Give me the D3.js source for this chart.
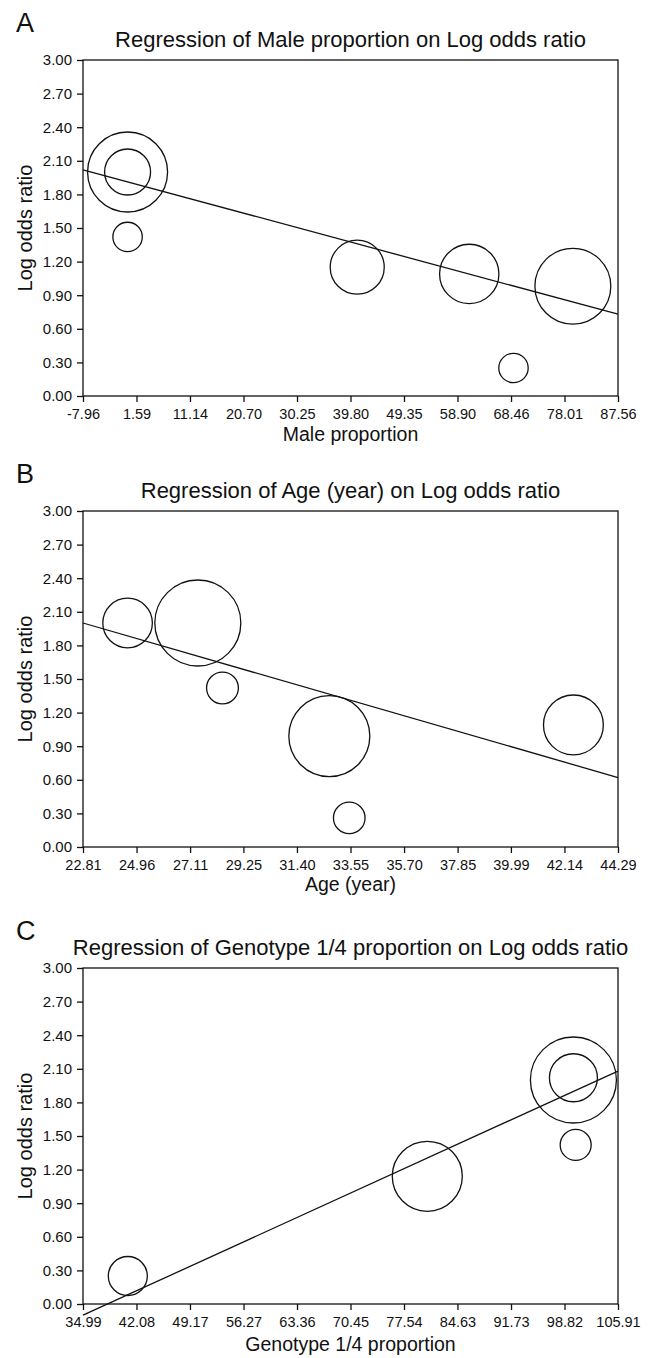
<!DOCTYPE html>
<html>
<head>
<meta charset="utf-8">
<script src="https://cdn.jsdelivr.net/npm/d3@7"></script>
<style>
  body { margin: 0; background: #fff; }
  text { font-family: "Liberation Sans", Arial, sans-serif; fill: #111; }
</style>
</head>
<body>
<div id="chart"></div>
<script>
// Shared y axis
var yTicks = [0, 0.3, 0.6, 0.9, 1.2, 1.5, 1.8, 2.1, 2.4, 2.7, 3.0];

// Panel A - male proportion
var maleX = [0, 0, 0, 41.0, 61.0, 68.9, 79.5];
var maleY = [2.00, 2.00, 1.42, 1.15, 1.09, 0.25, 0.98];
var maleW = [100, 33, 13.5, 45.6, 55, 13.5, 90];
var maleTicks = [-7.96, 1.59, 11.14, 20.70, 30.25, 39.80, 49.35, 58.90, 68.46, 78.01, 87.56];
var maleFit = [2.02, 0.73];

// Panel B - age
var ageX = [24.60, 27.42, 28.41, 32.70, 33.50, 42.50];
var ageY = [2.00, 2.00, 1.42, 0.99, 0.26, 1.09];
var ageW = [38.4, 115.6, 15.8, 102.5, 15.6, 56];
var ageTicks = [22.81, 24.96, 27.11, 29.25, 31.40, 33.55, 35.70, 37.85, 39.99, 42.14, 44.29];
var ageFit = [2.00, 0.62];

// Panel C - genotype 1/4 proportion
var genoX = [40.93, 80.63, 100.0, 100.0, 100.3];
var genoY = [0.25, 1.14, 2.00, 2.02, 1.42];
var genoW = [23.8, 76.6, 115.6, 36, 15];
var genoTicks = [34.99, 42.08, 49.17, 56.27, 63.36, 70.45, 77.54, 84.63, 91.73, 98.82, 105.91];
var genoFit = [-0.10, 2.08];

var panels = [
  {letter: "A", title: "Regression of Male proportion on Log odds ratio", xlab: "Male proportion",
   x: maleX, y: maleY, w: maleW, ticks: maleTicks, fit: maleFit, top: 60, titleGap: 45},
  {letter: "B", title: "Regression of Age (year) on Log odds ratio", xlab: "Age (year)",
   x: ageX, y: ageY, w: ageW, ticks: ageTicks, fit: ageFit, top: 511, titleGap: 44},
  {letter: "C", title: "Regression of Genotype 1/4 proportion on Log odds ratio", xlab: "Genotype 1/4 proportion",
   x: genoX, y: genoY, w: genoW, ticks: genoTicks, fit: genoFit, top: 968, titleGap: 47}
];

var W = 660, H = 1358;
var left = 83, right = 618, plotH = 336;

var svg = d3.select("#chart").append("svg")
    .attr("width", W)
    .attr("height", H);

var rScale = d3.scaleSqrt().domain([0, 100]).range([0, 40]);
var y = d3.scaleLinear().domain([0, 3]).range([plotH, 0]);
var fmt = function(d) { return d.toFixed(2); };

panels.forEach(function(p) {
    var g = svg.append("g").attr("transform", "translate(0," + p.top + ")");
    var x = d3.scaleLinear()
        .domain([p.ticks[0], p.ticks[p.ticks.length - 1]])
        .range([left, right]);

    // panel letter + title
    g.append("text")
        .attr("x", 16).attr("y", -28)
        .style("font-size", "27px")
        .text(p.letter);
    g.append("text")
        .attr("x", (left + right) / 2).attr("y", -13)
        .attr("text-anchor", "middle")
        .style("font-size", "22px")
        .text(p.title);

    // bubbles
    g.selectAll(".bubble")
        .data(d3.range(p.x.length))
        .enter().append("circle")
        .attr("class", "bubble")
        .attr("cx", function(i) { return x(p.x[i]); })
        .attr("cy", function(i) { return y(p.y[i]); })
        .attr("r", function(i) { return rScale(p.w[i]); })
        .attr("fill", "none")
        .attr("stroke", "#111")
        .attr("stroke-width", 1.3);

    // regression line (not clipped, it runs past the axis in C)
    var dom = x.domain();
    g.append("line")
        .attr("x1", x(dom[0])).attr("y1", y(p.fit[0]))
        .attr("x2", x(dom[1])).attr("y2", y(p.fit[1]))
        .attr("stroke", "#111")
        .attr("stroke-width", 1.3);

    // frame
    g.append("rect")
        .attr("x", left).attr("y", 0)
        .attr("width", right - left).attr("height", plotH)
        .attr("fill", "none")
        .attr("stroke", "#111")
        .attr("stroke-width", 1.3);

    // axes
    var yAxis = g.append("g")
        .attr("transform", "translate(" + left + ",0)")
        .call(d3.axisLeft(y).tickValues(yTicks).tickFormat(fmt).tickSize(6).tickSizeOuter(0).tickPadding(5));
    var xAxis = g.append("g")
        .attr("transform", "translate(0," + plotH + ")")
        .call(d3.axisBottom(x).tickValues(p.ticks).tickFormat(fmt).tickSize(6).tickSizeOuter(0).tickPadding(7));
    [yAxis, xAxis].forEach(function(a) {
        a.select(".domain").remove();
        a.selectAll("line").attr("stroke", "#111").attr("stroke-width", 1.3);
        a.selectAll("text").attr("fill", "#111")
            .style("font-family", "'Liberation Sans', Arial, sans-serif");
    });
    yAxis.selectAll("text").style("font-size", "15px");
    xAxis.selectAll("text").style("font-size", "14.5px");

    // axis titles
    g.append("text")
        .attr("x", (left + right) / 2).attr("y", plotH + p.titleGap)
        .attr("text-anchor", "middle")
        .style("font-size", "19.5px")
        .text(p.xlab);
    g.append("text")
        .attr("transform", "translate(32," + (plotH / 2) + ") rotate(-90)")
        .attr("text-anchor", "middle")
        .style("font-size", "20px")
        .text("Log odds ratio");
});
</script>
</body>
</html>
